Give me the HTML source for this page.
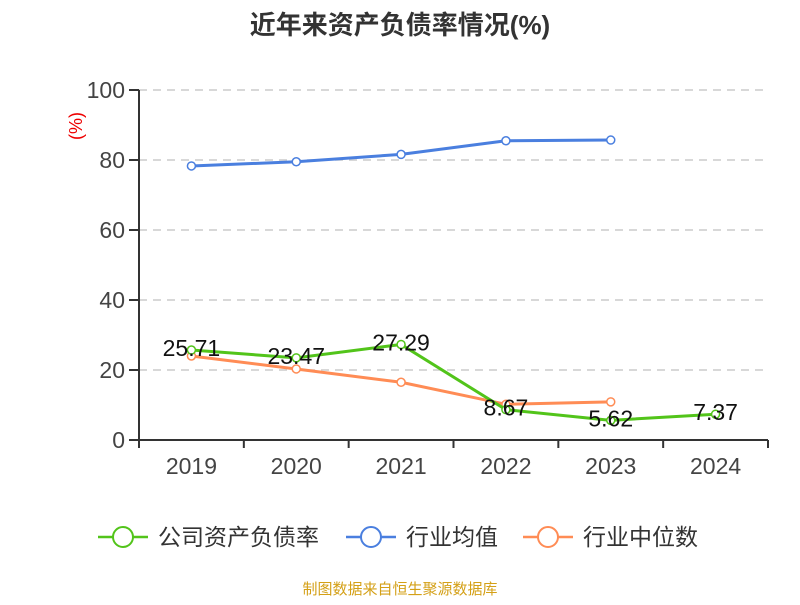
<!DOCTYPE html>
<html><head><meta charset="utf-8"><style>
body{margin:0;background:#fff}
svg text{font-family:"Liberation Sans","Noto Sans CJK SC",sans-serif}
</style></head><body>
<svg id="c" width="800" height="600" xmlns="http://www.w3.org/2000/svg">
<text x="400" y="34" text-anchor="middle" font-size="26" font-weight="bold" fill="#333">近年来资产负债率情况(%)</text>
<text transform="translate(82,126) rotate(-90)" text-anchor="middle" font-size="18" fill="#e00">(%)</text>
<g id="grid"></g><g id="axes"></g><g id="series"></g>
<g>
<g><line x1="98" y1="537" x2="148" y2="537" stroke="#52c41a" stroke-width="2.5"/><circle cx="123" cy="537" r="10" fill="#fff" stroke="#52c41a" stroke-width="2"/><text x="158" y="545" font-size="23" fill="#333">公司资产负债率</text></g>
<g><line x1="346" y1="537" x2="396" y2="537" stroke="#4a7fdf" stroke-width="2.5"/><circle cx="371" cy="537" r="10" fill="#fff" stroke="#4a7fdf" stroke-width="2"/><text x="406" y="545" font-size="23" fill="#333">行业均值</text></g>
<g><line x1="523" y1="537" x2="573" y2="537" stroke="#ff8c55" stroke-width="2.5"/><circle cx="548" cy="537" r="10" fill="#fff" stroke="#ff8c55" stroke-width="2"/><text x="583" y="545" font-size="23" fill="#333">行业中位数</text></g>
</g>
<text x="400" y="594" text-anchor="middle" font-size="15" fill="#d4a017">制图数据来自恒生聚源数据库</text>
</svg>
<script>
const categories=["2019","2020","2021","2022","2023","2024"];
const yTicks=[0,20,40,60,80,100];
const company=[25.71,23.47,27.29,8.67,5.62,7.37];
const companyLabels=["25.71","23.47","27.29","8.67","5.62","7.37"];
const industryAvg=[78.3,79.5,81.6,85.5,85.7,null];
const industryMedian=[24.0,20.3,16.5,10.2,10.9,null];
const NS="http://www.w3.org/2000/svg";
const x0=139,x1=768,yB=440,yT=90;
const bw=(x1-x0)/categories.length;
const X=i=>x0+bw*(i+0.5), Y=v=>yB-(v/100)*(yB-yT);
function mk(t,a,p){const e=document.createElementNS(NS,t);for(const k in a)e.setAttribute(k,a[k]);p.appendChild(e);return e;}
const grid=document.getElementById('grid'),axes=document.getElementById('axes'),ser=document.getElementById('series');
yTicks.forEach(v=>{
 if(v>0){const g=mk('line',{x1:x0,x2:x1,y1:Y(v),y2:Y(v),stroke:'#ccc','stroke-dasharray':'8,6','stroke-width':1.5},grid);
 }
 const t=mk('line',{x1:x0-10,x2:x0,y1:Y(v),y2:Y(v),stroke:'#333','stroke-width':2},axes);
 
 const l=mk('text',{x:x0-14,y:Y(v)+8,'text-anchor':'end','font-size':23,fill:'#444'},axes);l.textContent=v;
 
});
const ya=mk('line',{x1:x0,x2:x0,y1:yT,y2:yB,stroke:'#333','stroke-width':2},axes);

const xa=mk('line',{x1:x0,x2:x1,y1:yB,y2:yB,stroke:'#333','stroke-width':2},axes);

for(let i=0;i<=categories.length;i++){const t=mk('line',{x1:x0+bw*i,x2:x0+bw*i,y1:yB,y2:yB+8,stroke:'#333','stroke-width':2},axes);
 }
categories.forEach((c,i)=>{const l=mk('text',{x:X(i),y:yB+34,'text-anchor':'middle','font-size':23,fill:'#444'},axes);l.textContent=c;
 });
function series(data,color,name){
 const pts=data.map((v,i)=>v==null?null:[X(i),Y(v)]).filter(p=>p);
 const pl=mk('polyline',{points:pts.map(p=>p.join(',')).join(' '),fill:'none',stroke:color,'stroke-width':3},ser);
 
 pts.forEach(p=>{const c=mk('circle',{cx:p[0],cy:p[1],r:4,fill:'#fff',stroke:color,'stroke-width':1.5},ser);
  });
}
series(industryAvg,'#4a7fdf','industry-avg');
series(industryMedian,'#ff8c55','industry-median');
series(company,'#52c41a','company');
company.forEach((v,i)=>{const l=mk('text',{x:X(i),y:Y(v)+6,'text-anchor':'middle','font-size':23,fill:'#111'},ser);
 l.textContent=companyLabels[i];
 });
</script>
</body></html>
